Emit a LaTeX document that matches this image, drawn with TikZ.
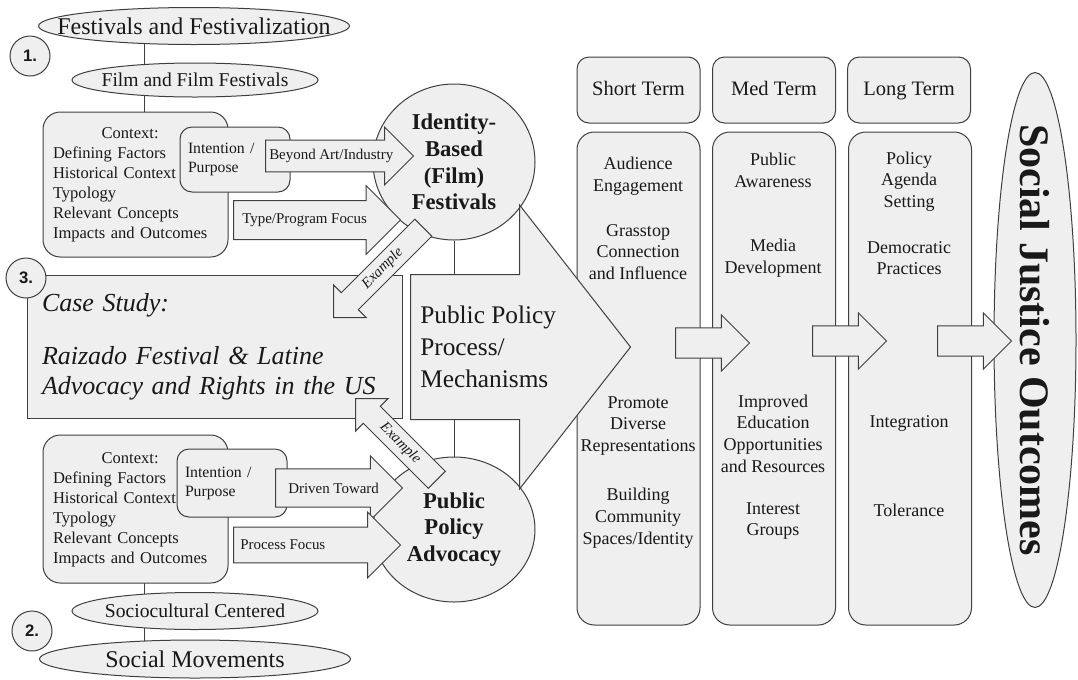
\documentclass[tikz,border=0pt]{standalone}
\usepackage{fontspec}
\setmainfont{Liberation Serif}
\newfontfamily\numfont{Liberation Sans}
\usetikzlibrary{positioning,shapes.geometric,shapes.arrows}
\definecolor{boxfill}{HTML}{EFEFEF}
\definecolor{boxline}{HTML}{3F3F3F}
\pgfdeclarelayer{background}
\pgfsetlayers{background,main}

\begin{document}
\begin{tikzpicture}[x=0.75pt,y=-0.75pt,
  every node/.style={text=black!90},
  shade/.style={draw=boxline, fill=boxfill, line width=0.75pt},
  ell/.style={shade, ellipse, inner sep=0pt},
  num/.style={shade, circle, minimum size=30pt, inner sep=0pt, font=\numfont\bfseries\fontsize{12.5}{14}\selectfont},
  ctx/.style={shade, rectangle, rounded corners=13pt, minimum width=138.75pt, inner xsep=7.5pt, text width=123.75pt, align=left, font=\fontsize{12.4}{15}\selectfont},
  purp/.style={shade, rectangle, rounded corners=9pt, minimum width=82.5pt, inner xsep=6pt, text width=70.5pt, align=left, font=\fontsize{11.8}{14.25}\selectfont},
  hub/.style={shade, ellipse, minimum width=121.5pt, inner sep=0pt, align=center, font=\bfseries\fontsize{17}{20}\selectfont},
  barrow/.style={shade, single arrow, single arrow tip angle=90, inner xsep=0pt, anchor=tail},
  atext/.style={inner sep=0pt, font=\fontsize{11.2}{13}\selectfont},
  term/.style={shade, rectangle, rounded corners=9pt, minimum width=92.25pt, minimum height=49.5pt, text height=10.5pt, text depth=3pt, font=\fontsize{15.4}{18}\selectfont},
  col/.style={shade, rectangle, rounded corners=13pt, minimum width=92.25pt, minimum height=369.75pt},
  ctext/.style={inner sep=0pt, align=center, font=\fontsize{13.5}{16.3}\selectfont},
  example/.style={barrow, anchor=tip, shape border rotate=180, minimum height=95.25pt, inner ysep=3.4pt, text height=8pt, text depth=2.5pt, single arrow head extend=8.25pt, font=\itshape\fontsize{11}{12}\selectfont}]
\useasboundingbox (0,0) rectangle (1078,679);

% 1. festivals side
\node[ell, minimum width=233.25pt, minimum height=27.75pt, font=\fontsize{18}{20}\selectfont] (ff) at (194,26) {\makebox[0pt]{Festivals and Festivalization}};
\node[ell, minimum width=184.5pt, minimum height=25.5pt, font=\fontsize{14.7}{17}\selectfont] (fi) at (195,80) {\makebox[0pt]{Film and Film Festivals}};
\node[num] (n1) at (30,56) {1.};
\node[ctx, minimum height=108.75pt] (c1) at (135.5,184.5) {\begin{tabular}{@{}l@{}}\multicolumn{1}{@{}c@{}}{Context:}\\Defining Factors\\Historical Context\\Typology\\Relevant Concepts\\Impacts and Outcomes\end{tabular}};
\node[purp, minimum height=48.75pt] (i1) at (235,159.5) {Intention /\\Purpose};

% 2. social movements side
\node[ell, minimum width=184.5pt, minimum height=27.75pt, font=\fontsize{14.7}{17}\selectfont] (sc) at (195,611) {\makebox[0pt]{Sociocultural Centered}};
\node[ell, minimum width=233.25pt, minimum height=28.5pt, font=\fontsize{18}{20}\selectfont] (sm) at (195,659) {\makebox[0pt]{Social Movements}};
\node[num] (n2) at (32,631) {2.};
\node[ctx, minimum height=111pt] (c2) at (135.5,509) {\begin{tabular}{@{}l@{}}\multicolumn{1}{@{}c@{}}{Context:}\\Defining Factors\\Historical Context\\Typology\\Relevant Concepts\\Impacts and Outcomes\end{tabular}};
\node[purp, minimum height=51pt] (i2) at (232,483) {Intention /\\Purpose};

% the two hubs
\node[hub, minimum height=117pt] (ib) at (454,162) {Identity-\\Based\\(Film)\\Festivals};
\node[hub, minimum height=108.75pt] (pa) at (454,529.5) {Public\\Policy\\Advocacy};

\node[barrow, minimum height=111pt, inner ysep=11.6pt, single arrow head extend=9.75pt] (a1) at (265,156) {};
\node[atext, right=3pt of a1.tail] (t1) {Beyond Art/Industry};
\node[barrow, minimum height=125.25pt, inner ysep=14.25pt, single arrow head extend=11.25pt] (a2) at (233,220) {};
\node[atext, right=6.75pt of a2.tail] (t2) {Type/Program Focus};
\node[barrow, minimum height=95.25pt, inner ysep=13.9pt, single arrow head extend=9.75pt] (a3) at (275,488) {};
\node[atext, right=9.75pt of a3.tail] (t3) {Driven Toward};
\node[barrow, minimum height=125.25pt, inner ysep=13.1pt, single arrow head extend=11.25pt] (a4) at (233,545) {};
\node[atext, right=5.25pt of a4.tail] (t4) {Process Focus};

% 3. case study
\node[shade, rectangle, minimum width=281.25pt, minimum height=107.25pt, inner xsep=11.25pt, text width=258.75pt, align=left, font=\itshape\fontsize{19.5}{22.5}\selectfont] (cs) at (214.5,346.5) {Case Study:\\[17pt]Raizado Festival \& Latine\\Advocacy and Rights in the US};
\node[num] (n3) at (26,278) {3.};

% outcome columns
\node[term] (hs) at (638.5,90) {Short Term};
\node[term] (hm) at (774,90) {Med Term};
\node[term] (hl) at (909,90) {Long Term};
\node[col] (bs) at (638.5,378.5) {};
\node[col] (bm) at (774,378.5) {};
\node[col] (bl) at (910,378.5) {};

\node[ctext] (s1) at (638,176) {Audience\\Engagement};
\node[ctext] (s2) at (638,252) {Grasstop\\Connection\\and Influence};
\node[ctext] (s3) at (638,426) {Promote\\Diverse\\Representations};
\node[ctext] (s4) at (638,518) {Building\\Community\\Spaces/Identity};
\node[ctext] (m1) at (773,170.5) {Public\\Awareness};
\node[ctext] (m2) at (773,258) {Media\\Development};
\node[ctext] (m3) at (773,433.5) {Improved\\Education\\Opportunities\\and Resources};
\node[ctext] (m4) at (773,521) {Interest\\Groups};
\node[ctext] (l1) at (909,181.5) {Policy\\Agenda\\Setting};
\node[ctext] (l2) at (909,258) {Democratic\\Practices};
\node[ctext] (l3) at (909,423) {Integration};
\node[ctext] (l4) at (909,510) {Tolerance};

\node[ell, rotate=-90, minimum width=401.25pt, minimum height=61.5pt, font=\bfseries\fontsize{31.5}{36}\selectfont] (so) at (1035,340) {\makebox[0pt]{Social Justice Outcomes}};

\node[barrow, minimum height=55.5pt, inner ysep=10.9pt, single arrow head extend=9.75pt] (r1) at (675,343) {};
\node[barrow, minimum height=55.5pt, inner ysep=10.9pt, single arrow head extend=9.75pt] (r2) at (812,341) {};
\node[barrow, minimum height=55.5pt, inner ysep=10.9pt, single arrow head extend=9.75pt] (r3) at (937,341) {};

% policy process
\node[barrow, single arrow tip angle=104, minimum height=165pt, inner ysep=54pt, single arrow head extend=52.125pt] (pp) at (410,347) {};
\node[inner sep=0pt, align=left, font=\fontsize{19}{24}\selectfont, right=7.5pt of pp.tail] (ppt) {Public Policy\\Process/\\Mechanisms};

\node[example, rotate=45] (e1) at (333,318) {Example};
\node[example, rotate=-45, minimum height=86.25pt] (e2) at (355,398) {Example};

\coordinate (sp) at (144,0);
\begin{pgfonlayer}{background}
\draw[boxline, line width=0.75pt] (ff.center -| sp) -- (fi.center -| sp);
\draw[boxline, line width=0.75pt] (fi.center -| sp) -- (c1.center -| sp);
\draw[boxline, line width=0.75pt] (c2.center -| sp) -- (sc.center -| sp);
\draw[boxline, line width=0.75pt] (sc.center -| sp) -- (sm.center -| sp);
\draw[boxline, line width=0.75pt] (ib) -- (ib |- pp);
\draw[boxline, line width=0.75pt] (pa) -- (pa |- pp);
\end{pgfonlayer}
\end{tikzpicture}
\end{document}
